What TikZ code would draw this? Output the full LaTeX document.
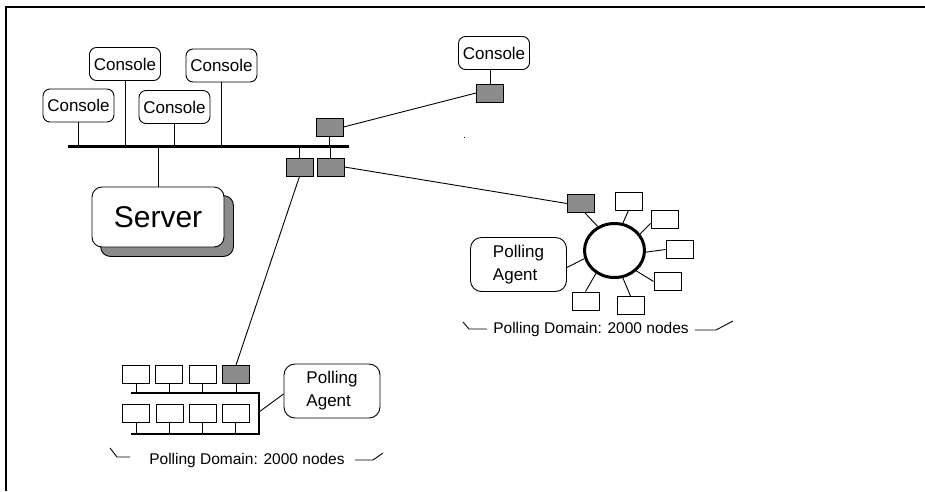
\documentclass[tikz,border=0pt]{standalone}
\usepackage{fontspec}
\setmainfont{Liberation Sans}
\usetikzlibrary{shapes.geometric,calc,backgrounds}
\begin{document}
\begin{tikzpicture}[x=1pt,y=-1pt,
  console/.style={draw, line width=0.9pt, rounded corners=7pt, minimum width=71pt, minimum height=33pt, inner sep=0pt, font=\fontsize{17}{20}\selectfont},
  gway/.style={draw, line width=0.9pt, fill=black!45, minimum width=27pt, minimum height=18pt, inner sep=0pt},
  host/.style={draw, line width=0.9pt, fill=white, minimum width=27pt, minimum height=18pt, inner sep=0pt},
  agentbox/.style={draw, line width=0.9pt, rounded corners=11pt, minimum width=96pt, minimum height=54pt, inner sep=0pt, align=left, font=\fontsize{17}{23}\selectfont},
  link/.style={line width=0.9pt},
  bus/.style={line width=3pt},
  domlabel/.style={font=\fontsize{15.5}{19}\selectfont, inner sep=0pt, anchor=base},
  bracket/.style={line width=0.9pt}
]
\useasboundingbox (0,0) rectangle (925,491);
% frame
\draw[line width=2.5pt] (6,491) -- (6,7) -- (925,7);

% consoles
\node[console] (cA) at (78.5,105.5) {Console};
\node[console] (cB) at (125,64) {Console};
\node[console] (cC) at (174.5,107) {Console};
\node[console] (cD) at (221.5,65.5) {Console};
\node[console] (cE) at (494,53) {Console};

% main bus
\coordinate (busL) at (68,146);
\coordinate (busR) at (349,146);
\draw[bus] (busL) -- (busR);
\foreach \n in {cA,cB,cC,cD} \draw[link] (\n.south) -- (\n.south |- busL);

% server
\node[draw, line width=0.9pt, rounded corners=10pt, fill=white, minimum width=132pt, minimum height=60pt, inner sep=0pt, font=\fontsize{30}{36}\selectfont] (srv) at (158,217) {Server\hspace{14pt}};
\begin{scope}[on background layer]
\draw[line width=0.9pt, fill=black!45, rounded corners=10pt] ($(srv.north west)+(9,9)$) rectangle ($(srv.south east)+(9,9)$);
\end{scope}
\draw[link] (srv.north) -- (srv.north |- busL);

% gateways
\node[gway] (g1) at (329.5,127) {};
\node[gway] (g2) at (299.5,167) {};
\node[gway] (g3) at (330.5,167) {};
\node[gway] (g4) at (490,93) {};
\node[gway] (g5) at (581,203.5) {};
\node[gway] (g6) at (236,374.5) {};
\draw[link] (g1.south) -- (g1.south |- busL);
\draw[link] (g2.north) -- (g2.north |- busL);
\draw[link] (g3.north) -- (g3.north |- busL);
\draw[link] (g4.north) -- (g4.north |- cE.south);
\draw[link] (g1.east) -- (g4.west);
\draw[link] (g3.east) -- (g5.west);
\draw[link] (g2.south) -- (g6.north);

% stray dot
\fill (463.5,136.5) rectangle (465,138);

% ring domain
\node[ellipse, draw, line width=3pt, minimum width=60pt, minimum height=54pt, inner sep=0pt] (ring) at (614.5,250.5) {};
\node[host] (h1) at (628.5,201) {};
\node[host] (h2) at (664.5,219) {};
\node[host] (h3) at (679.5,249.5) {};
\node[host] (h4) at (667.5,281.5) {};
\node[host] (h5) at (630.5,305.5) {};
\node[host] (h6) at (585.5,301) {};
\draw[link] ($(g5.south)+(4,0)$) -- (ring.125);
\draw[link] (h1.south) -- (ring.73);
\draw[link] (h2.198) -- (ring.33);
\draw[link] (h3.west) -- (ring.-3);
\draw[link] (h4.west) -- (ring.-43);
\draw[link] (h5.north) -- (ring.-73);
\draw[link] (h6.north) -- (ring.-129);
\node[agentbox] (aR) at (518.5,264.5) {Polling\\Agent};
\draw[link] ($(aR.east)+(0,3)$) -- (ring.195);
\node[domlabel] (lR) at (591,333) {Polling Domain: 2000 nodes};
\draw[bracket] (463,322) -- (469,329) -- (487,329);
\draw[bracket] (695,330) -- (716,330) -- (733,321);

% bus domain
\node[host] (t1) at (136,374.5) {};
\node[host] (t2) at (169,374.5) {};
\node[host] (t3) at (202.5,374.5) {};
\node[host] (b1) at (136,413.5) {};
\node[host] (b2) at (169.5,413.5) {};
\node[host] (b3) at (202.5,413.5) {};
\node[host] (b4) at (235.5,413.5) {};
\coordinate (tbL) at (131,393);
\coordinate (tbR) at (259,393);
\coordinate (bbR) at (259,434);
\coordinate (bbL) at (131,434);
\draw[line width=2.5pt] (tbL) -- (tbR) -- (bbR) -- (bbL);
\foreach \n in {t1,t2,t3,g6} \draw[link] (\n.south) -- (\n.south |- tbL);
\foreach \n in {b1,b2,b3,b4} \draw[link] (\n.south) -- (\n.south |- bbL);
\node[agentbox] (aL) at (332,391) {Polling\\Agent};
\coordinate (bj) at (259,412);
\draw[link] (bj) -- ($(aL.west)+(0,3)$);
\node[domlabel] (lL) at (247,464) {Polling Domain: 2000 nodes};
\draw[bracket] (110,448) -- (117,457) -- (130,457);
\draw[bracket] (355,460) -- (373,460) -- (383,453);
\end{tikzpicture}
\end{document}
